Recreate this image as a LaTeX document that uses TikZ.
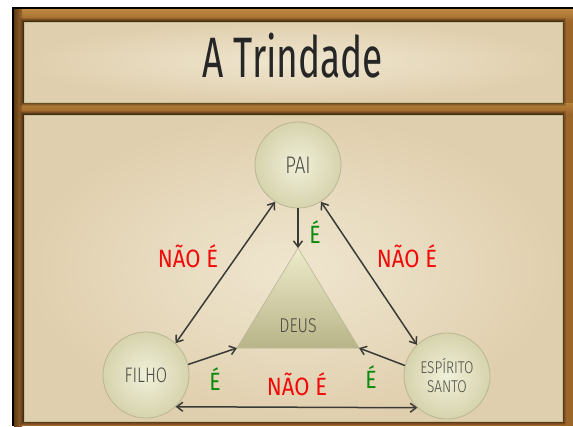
\documentclass[tikz,border=0pt]{standalone}
\usepackage{fontspec}
\setmainfont{Fira Sans}
\newfontfamily\lightfont{Fira Sans}[UprightFont=* Light]
\usetikzlibrary{arrows.meta}
\definecolor{framebrown}{HTML}{9C652A}
\definecolor{framedark}{HTML}{5E3A14}
\definecolor{framegold}{HTML}{C89448}
\definecolor{parchin}{HTML}{EFE6CF}
\definecolor{parchout}{HTML}{E0CFAE}
\definecolor{panelline}{HTML}{C2C096}
\definecolor{circin}{HTML}{F1F0DA}
\definecolor{circout}{HTML}{D6D3AD}
\definecolor{circline}{HTML}{B9B696}
\definecolor{tritop}{HTML}{EEEBCB}
\definecolor{tribot}{HTML}{B8B488}
\definecolor{nodetext}{HTML}{4A4A40}
\definecolor{arrowgray}{HTML}{3A3A36}
\definecolor{neggreen}{HTML}{0A8A0A}
\definecolor{negred}{HTML}{F00A0A}
\newcommand{\hand}[2]{\scalebox{#1}[1]{#2}}
\tikzset{
  circ/.style={circle, minimum size=86pt, inner sep=0pt, inner color=circin, outer color=circout, draw=circline, line width=0.8pt, text=nodetext, align=center},
  tip/.tip={Straight Barb[length=6pt,width=9pt,line width=1.5pt]},
  conn/.style={draw=arrowgray, line width=1.5pt, -tip},
  bconn/.style={draw=arrowgray, line width=1.5pt, tip-tip},
  redlbl/.style={text=negred, font=\fontsize{25}{25}\selectfont, inner sep=0pt},
  greenlbl/.style={text=neggreen, font=\fontsize{25}{25}\selectfont, inner sep=0pt},
}
\begin{document}
\begin{tikzpicture}[x=1pt,y=1pt]
\useasboundingbox (0,0) rectangle (573,-426);
\fill[white] (0,0) rectangle (573,-426);
% frame
\fill[framebrown] (12,-7) rectangle (573,-426);
\shade[top color=framegold, bottom color=framebrown, opacity=0.8] (14,-9) rectangle (573,-22);
\shade[top color=framegold, bottom color=framebrown, opacity=0.6] (14,-103) rectangle (573,-114);
\shade[left color=framedark, right color=framebrown] (14,-9) rectangle (22,-426);
\fill[black] (12,-7) rectangle (14,-426);
\fill[black] (12,-7) rectangle (573,-9);
% panel shadows
\foreach \d/\o in {4/0.12,3/0.15,2/0.2,1/0.25}{
  \fill[black, opacity=\o] (24-\d,-22+\d) rectangle (562+\d,-102-\d);
  \fill[black, opacity=\o] (24-\d,-115+\d) rectangle (562+\d,-421-\d);
}
% panels
\shade[inner color=parchin, outer color=parchout] (24,-22) rectangle (562,-102);
\draw[panelline, line width=1pt] (24,-22) rectangle (562,-102);
\shade[inner color=parchin, outer color=parchout] (24,-115) rectangle (562,-421);
\draw[panelline, line width=1pt] (24,-115) rectangle (562,-421);
% title
\node[anchor=base, text=black!85, font=\fontsize{57}{57}\selectfont, inner sep=0pt] (title) at (293,-77) {\hand{0.65}{A Trindade}};
% triangle
\coordinate (deusT) at (298,-248);
\coordinate (deusL) at (237,-348);
\coordinate (deusR) at (359,-348);
\shade[top color=tritop, bottom color=tribot, draw=circline, line width=0.6pt] (deusT) -- (deusR) -- (deusL) -- cycle;
\node[text=nodetext, font=\lightfont\fontsize{20}{20}\selectfont, inner sep=0pt] (deus) at (298,-326) {\hand{0.8}{DEUS}};
% circles
\node[circ, font=\lightfont\fontsize{24}{24}\selectfont] (pai) at (298,-165) {\hand{0.78}{PAI}};
\node[circ, font=\lightfont\fontsize{21}{21}\selectfont] (filho) at (146,-375) {\hand{0.78}{FILHO}};
\node[circ, font=\lightfont\fontsize{17}{21}\selectfont] (esp) at (447,-376) {\hand{0.8}{ESPÍRITO}\\[-2pt]\hand{0.8}{SANTO}};
% connectors
\draw[conn] (pai) -- (deusT);
\draw[bconn] (pai.238) -- (filho.47);
\draw[bconn] (pai.302) -- (esp.134);
\draw[conn] (filho.14) -- (deusL);
\draw[conn] (esp.166) -- (deusR);
\draw[bconn] (filho.-47) -- (esp.-133);
% labels
\node[greenlbl] (e1) at (315,-232) {\hand{0.85}{É}};
\node[redlbl] (n1) at (188,-256) {\hand{0.88}{NÃO É}};
\node[redlbl] (n2) at (407,-256) {\hand{0.88}{NÃO É}};
\node[greenlbl] (e2) at (215,-379) {\hand{0.85}{É}};
\node[greenlbl] (e3) at (371,-377) {\hand{0.85}{É}};
\node[redlbl] (n3) at (297,-384) {\hand{0.88}{NÃO É}};
\end{tikzpicture}
\end{document}
